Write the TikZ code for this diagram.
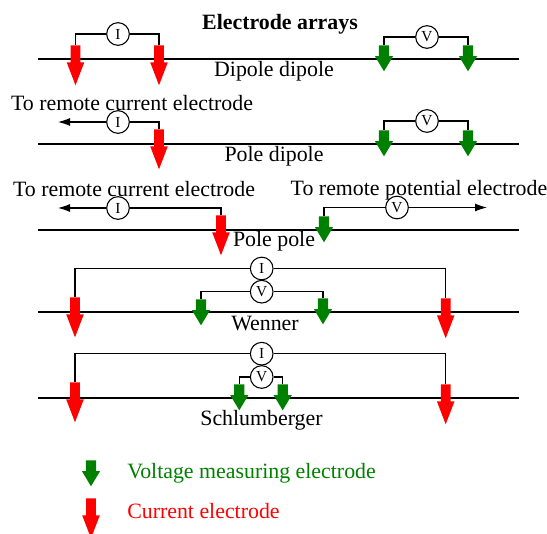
\documentclass[tikz,border=0pt]{standalone}
\usepackage{fontspec}
\setmainfont{Liberation Serif}
\usepackage{xcolor}
\usetikzlibrary{shapes.arrows,arrows.meta}
\definecolor{voltgreen}{RGB}{0,128,0}
\tikzset{
	ground/.style={line width=1.5pt},
	wire/.style={line width=0.8pt},
	remote/.style={wire,-{Latex[length=9pt,width=6pt]}},
	meter/.style={circle,draw,line width=0.8pt,fill=white,minimum size=17pt,inner sep=0pt,font=\fontsize{11.5}{12}\selectfont},
	electrode/.style={single arrow,shape border rotate=270,anchor=north,inner sep=3.4pt,minimum width=12.75pt,single arrow head extend=3pt,single arrow head indent=0pt},
	currentel/.style={electrode,fill=red,minimum height=30pt,single arrow tip angle=42},
	voltageel/.style={electrode,fill=voltgreen,inner sep=3.6pt,minimum height=19.5pt,single arrow tip angle=62},
	label/.style={font=\fontsize{16.4}{18}\selectfont}
}
\begin{document}
\begin{tikzpicture}[x=0.75pt,y=-0.75pt]
	\useasboundingbox (0,0) rectangle (547,534);
	
	% Draw ground lines
	\foreach \y in {59.5,144,230,312,397.7}
		\draw[ground] (38,\y) -- (519,\y);
	
	\node[label,font=\fontsize{16.4}{18}\selectfont\bfseries] (title) at (280,24.5) {Electrode arrays};
	
	% Dipole dipole
	\node[currentel] (ca1) at (75.5,45) {};
	\node[currentel] (ca2) at (159,45) {};
	\node[voltageel] (va1) at (384,45) {};
	\node[voltageel] (va2) at (468,45) {};
	\node[meter] (ia) at (118,34) {I};
	\node[meter] (ua) at (427,37) {V};
	\draw[wire] (ia) -| (ca1.north);
	\draw[wire] (ia) -| (ca2.north);
	\draw[wire] (ua) -| (va1.north);
	\draw[wire] (ua) -| (va2.north);
	\node[label] (namea) at (274,71.5) {Dipole dipole};
	
	% Pole dipole
	\node[currentel] (cb1) at (159,129) {};
	\node[voltageel] (vb1) at (384,130) {};
	\node[voltageel] (vb2) at (468,130) {};
	\node[meter] (ib) at (118,122) {I};
	\node[meter] (ub) at (427,121) {V};
	\coordinate (endb) at (58,122);
	\draw[remote] (ib) -- (endb);
	\draw[wire] (ib) -| (cb1.north);
	\draw[wire] (ub) -| (vb1.north);
	\draw[wire] (ub) -| (vb2.north);
	\node[label] (remoteb) at (132,103) {To remote current electrode};
	\node[label] (nameb) at (274,156.5) {Pole dipole};
	
	% Pole pole
	\node[currentel] (cc1) at (221,215) {};
	\node[voltageel] (vc1) at (324,216) {};
	\node[meter] (ic) at (118,208) {I};
	\node[meter] (uc) at (397,207.5) {V};
	\coordinate (endc) at (58,208);
	\coordinate (endu) at (487,207.5);
	\draw[remote] (ic) -- (endc);
	\draw[wire] (ic) -| (cc1.north);
	\draw[wire] (uc) -| (vc1.north);
	\draw[remote] (uc) -- (endu);
	\node[label] (remotec) at (134,189) {To remote current electrode};
	\node[label] (remoteu) at (419,190) {To remote potential electrode};
	\node[label] (namec) at (274,241.5) {Pole pole};
	
	% Wenner
	\node[currentel] (cd1) at (75,297) {};
	\node[currentel] (cd2) at (445.7,298) {};
	\node[voltageel] (vd1) at (201,299) {};
	\node[voltageel] (vd2) at (323,298) {};
	\node[meter] (id) at (261.7,268.5) {I};
	\node[meter] (ud) at (261.7,291.7) {V};
	\draw[wire] (id) -| (cd1.north);
	\draw[wire] (id) -| (cd2.north);
	\draw[wire] (ud) -| (vd1.north);
	\draw[wire] (ud) -| (vd2.north);
	\node[label] (named) at (265,323.5) {Wenner};
	
	% Schlumberger
	\node[currentel] (ce1) at (75,382) {};
	\node[currentel] (ce2) at (445.7,384) {};
	\node[voltageel] (ve1) at (239.3,384) {};
	\node[voltageel] (ve2) at (282.7,384) {};
	\node[meter] (ie) at (261.7,353.7) {I};
	\node[meter] (ue) at (261.7,377) {V};
	\draw[wire] (ie) -| (ce1.north);
	\draw[wire] (ie) -| (ce2.north);
	\draw[wire] (ue) -| (ve1.north);
	\draw[wire] (ue) -| (ve2.north);
	\node[label] (namee) at (261.5,420.5) {Schlumberger};
	
	% Legend
	\node[voltageel] (keyv) at (91,460) {};
	\node[currentel] (keyc) at (91,498) {};
	\node[label,text=voltgreen,anchor=west,inner sep=0pt] (textv) at (127,473) {Voltage measuring electrode};
	\node[label,text=red,anchor=west,inner sep=0pt] (textc) at (127,511.5) {Current electrode};
\end{tikzpicture}
\end{document}
